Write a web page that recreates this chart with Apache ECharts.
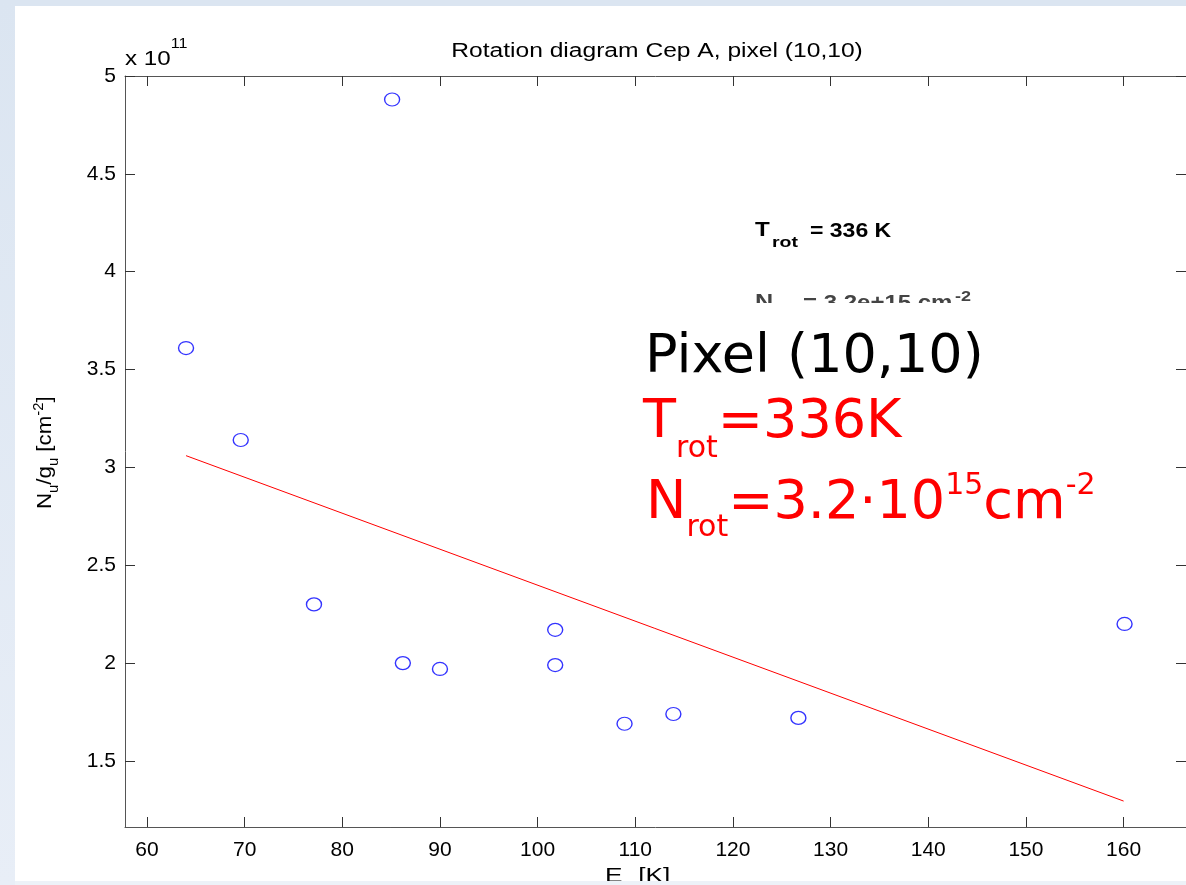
<!DOCTYPE html>
<html>
<head>
<meta charset="utf-8">
<script src="https://cdn.jsdelivr.net/npm/echarts@6/dist/echarts.min.js"></script>
<style>
  html, body { margin: 0; padding: 0; background: #ffffff; }
  #chart { width: 1186px; height: 885px; }
</style>
</head>
<body>
<div id="chart"></div>
<script>
// Upper-level energy E_u [K] of each observed transition
const energyK = [64.0, 69.6, 77.1, 85.1, 86.2, 90.0, 101.8, 101.8, 108.9, 113.9, 126.7, 160.1];
// Column density per statistical weight N_u/g_u, in units of 1e11 cm^-2
const columnPerWeight = [3.61, 3.14, 2.30, 4.88, 2.00, 1.97, 2.17, 1.99, 1.69, 1.74, 1.72, 2.20];
// Fitted relation, sampled at its two end points
const fitEnergyK = [64.0, 160.0];
const fitColumn = [3.06, 1.295];
// Tick labels
const xTicks = [60, 70, 80, 90, 100, 110, 120, 130, 140, 150, 160];
const yTicks = [1.5, 2, 2.5, 3, 3.5, 4, 4.5, 5];

const SANS = '"Liberation Sans", Arial, Helvetica, sans-serif';
const VERD = '"DejaVu Sans", Verdana, sans-serif';

const measureCtx = document.createElement('canvas').getContext('2d');
function fontOf(size, weight, family) {
  return (weight || 'normal') + ' ' + size + 'px ' + family;
}

// a text piece placed by its baseline
function txt(text, x, baseline, size, opt) {
  opt = opt || {};
  const family = opt.font || SANS;
  const mid = family === VERD ? 0.25 : 0.35;
  return {
    type: 'text',
    x: x,
    y: baseline - size * mid,
    z: opt.z || 100,
    scaleX: opt.scaleX || 1,
    style: {
      text: text,
      fill: opt.color || '#000000',
      font: fontOf(size, opt.weight, family),
      textAlign: opt.align || 'left',
      textVerticalAlign: 'middle'
    }
  };
}

// a row of pieces (with sub/superscripts) laid out one after another
function row(pieces, x, baseline, opt) {
  opt = opt || {};
  const sx = opt.scaleX || 1;
  const family = opt.font || SANS;
  const out = [];
  let cx = x;
  pieces.forEach(p => {
    const o = Object.assign({}, opt, p.opt || {});
    out.push(txt(p.t, cx, baseline + (p.dy || 0), p.size, o));
    measureCtx.font = fontOf(p.size, o.weight, family);
    cx += measureCtx.measureText(p.t).width * sx + (p.gap || 0);
  });
  return out;
}

const scatterData = energyK.map((e, i) => [e, columnPerWeight[i]]);
const fitData = fitEnergyK.map((e, i) => [e, fitColumn[i]]);

const axisLine = { show: true, lineStyle: { color: '#555555', width: 1 } };
const tickStyle = { color: '#333333', width: 1 };

const xBase = { type: 'value', min: 57.75, max: 166.39, splitLine: { show: false } };
const yBase = { type: 'value', min: 1.1625, max: 5, splitLine: { show: false } };

const red = { font: VERD, color: '#ff0000', z: 120 };
const grey = { weight: 'bold', color: '#444444', scaleX: 1.2 };

const option = {
  backgroundColor: '#ffffff',
  animation: false,
  grid: { left: 125, top: 76, right: -1, bottom: 58, containLabel: false },
  xAxis: [
    Object.assign({}, xBase, {
      position: 'bottom',
      axisLine: axisLine,
      axisTick: { show: true, inside: true, length: 10, lineStyle: tickStyle, customValues: xTicks },
      axisLabel: { show: true, customValues: xTicks, margin: 13, color: '#000000', fontSize: 21, fontFamily: SANS }
    }),
    Object.assign({}, xBase, {
      position: 'top',
      axisLine: axisLine,
      axisTick: { show: true, inside: true, length: 10, lineStyle: tickStyle, customValues: xTicks },
      axisLabel: { show: false }
    })
  ],
  yAxis: [
    Object.assign({}, yBase, {
      position: 'left',
      axisLine: axisLine,
      axisTick: { show: true, inside: true, length: 10, lineStyle: tickStyle, customValues: yTicks },
      axisLabel: { show: true, customValues: yTicks, margin: 9, color: '#000000', fontSize: 21, fontFamily: SANS,
        formatter: v => String(v) }
    }),
    Object.assign({}, yBase, {
      position: 'right',
      axisLine: axisLine,
      axisTick: { show: true, inside: true, length: 10, lineStyle: tickStyle, customValues: yTicks },
      axisLabel: { show: false }
    })
  ],
  series: [
    {
      type: 'line',
      data: fitData,
      symbol: 'none',
      lineStyle: { color: '#ff0000', width: 1 },
      z: 3
    },
    {
      type: 'scatter',
      data: scatterData,
      symbol: 'circle',
      symbolSize: [15, 13],
      itemStyle: { color: 'rgba(255,255,255,0)', borderColor: '#0000ff', borderWidth: 1.3 },
      z: 4
    }
  ],
  graphic: [].concat(
    // title and exponent
    [txt('Rotation diagram Cep A, pixel (10,10)', 657, 58, 20, { align: 'center', scaleX: 1.23 })],
    row([{ t: 'x 10', size: 21 }, { t: '11', size: 14, dy: -18, gap: 0 }], 125, 67, { scaleX: 1.15 }),

    // fit summary
    [
      txt('T', 755, 238, 21, { weight: 'bold', scaleX: 1.15 }),
      txt('rot', 772, 248, 15, { weight: 'bold', scaleX: 1.3 }),
      txt('= 336 K', 810, 238, 20, { weight: 'bold', scaleX: 1.15 }),
      txt('N', 755, 310, 21, grey),
      txt('rot', 772, 320, 15, Object.assign({}, grey, { scaleX: 1.3 })),
      txt('= 3.2e+15 cm', 803, 310, 20, grey),
      txt('-2', 955, 302, 15, grey)
    ],

    // boxed note
    [{ type: 'rect', z: 110, shape: { x: 636, y: 303, width: 470, height: 245 }, style: { fill: '#ffffff' } }],
    [txt('Pixel (10,10)', 645, 371, 54, { font: VERD, z: 120 })],
    row([
      { t: 'T', size: 54 },
      { t: 'rot', size: 30, dy: 21 },
      { t: '=336K', size: 54 }
    ], 643, 436, red),
    row([
      { t: 'N', size: 54 },
      { t: 'rot', size: 30, dy: 19 },
      { t: '=3.2\u00b710', size: 54 },
      { t: '15', size: 30, dy: -23 },
      { t: 'cm', size: 54 },
      { t: '-2', size: 30, dy: -23 }
    ], 646, 517, red),

    // x-axis name
    row([{ t: 'E', size: 21 }, { t: 'u', size: 14, dy: 6, gap: 6 }, { t: '[K]', size: 21 }], 605, 884, { scaleX: 1.25 }),

    // y-axis name, rotated to read upwards
    [{
      type: 'group',
      x: 53,
      y: 509,
      rotation: Math.PI / 2,
      children: row([
        { t: 'N', size: 21 },
        { t: 'u', size: 14, dy: 6 },
        { t: '/', size: 21 },
        { t: 'g', size: 21 },
        { t: 'u', size: 14, dy: 6 },
        { t: ' [cm', size: 21 },
        { t: '-2', size: 14, dy: -9 },
        { t: ']', size: 21 }
      ], 0, 0, { scaleX: 1.06 }).map(e => Object.assign(e, { scaleX: 1.06 }))
    }],

    // slide frame around the figure
    [
      { type: 'rect', z: 200, shape: { x: 0, y: 0, width: 1186, height: 6 }, style: { fill: '#dbe5f1' } },
      { type: 'rect', z: 200, shape: { x: 0, y: 881, width: 1186, height: 4 }, style: { fill: '#edf2f8' } },
      { type: 'rect', z: 201, shape: { x: 0, y: 0, width: 15, height: 885 },
        style: { fill: { type: 'linear', x: 0, y: 0, x2: 0, y2: 1,
          colorStops: [{ offset: 0, color: '#dbe5f1' }, { offset: 1, color: '#e8eef7' }] } } }
    ]
  )
};

const chart = echarts.init(document.getElementById('chart'), null, { renderer: 'canvas' });
chart.setOption(option);
</script>
</body>
</html>
